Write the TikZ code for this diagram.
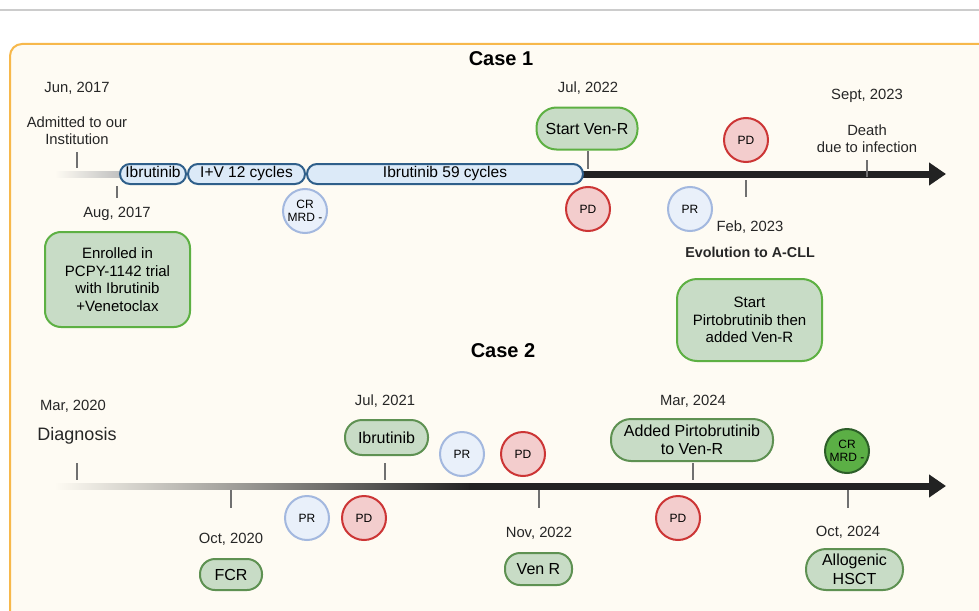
\documentclass[tikz,border=0pt]{standalone}
\usepackage{fontspec}
\setmainfont{Liberation Sans}
\usetikzlibrary{arrows.meta}
\definecolor{bgc}{HTML}{FEFBF3}
\definecolor{frame}{HTML}{F7B84B}
\definecolor{pillfill}{HTML}{DCEAF8}
\definecolor{pilldraw}{HTML}{2F5F8A}
\definecolor{gfill}{HTML}{C8DCC6}
\definecolor{gdrawA}{HTML}{5DB043}
\definecolor{gdrawB}{HTML}{5E9152}
\definecolor{bfill}{HTML}{E9F0FA}
\definecolor{bdraw}{HTML}{A3B8DF}
\definecolor{rfill}{HTML}{F3CDCD}
\definecolor{rdraw}{HTML}{CC3535}
\definecolor{dgfill}{HTML}{5BAF45}
\definecolor{dgdraw}{HTML}{2C5E28}
\definecolor{tickc}{HTML}{707070}
\definecolor{linec}{HTML}{222222}
\tikzset{
  lbl/.style={font=\fontsize{14.8}{17}\selectfont, align=center, text=black!85},
  ttl/.style={font=\fontsize{20}{23}\selectfont\bfseries},
  pill/.style={draw=pilldraw, fill=pillfill, line width=2pt, rounded corners=10pt, minimum height=20pt, inner sep=0pt, text height=1.55ex, text depth=0.25ex, font=\fontsize{15.5}{18}\selectfont},
  gbox/.style={draw=gdrawA, fill=gfill, line width=2pt, rounded corners=16pt, align=center, inner sep=0pt, font=\fontsize{15}{17.5}\selectfont},
  gpill/.style={draw=gdrawB, fill=gfill, line width=2pt, align=center, inner sep=0pt, font=\fontsize{16}{18.5}\selectfont},
  bcirc/.style={circle, draw=bdraw, fill=bfill, line width=2pt, minimum size=44pt, inner sep=0pt, align=center, font=\fontsize{12}{13.5}\selectfont},
  rcirc/.style={bcirc, draw=rdraw, fill=rfill},
  dcirc/.style={bcirc, draw=dgdraw, fill=dgfill},
  tick/.style={draw=tickc, line width=2pt},
  axis/.style={draw=linec, line width=7pt, -{Triangle[length=17pt,width=22pt]}}
}
\begin{document}
\begin{tikzpicture}[x=1pt,y=-1pt]
\useasboundingbox (0,0) rectangle (979,610);
\fill[white] (0,0) rectangle (979,610);
\draw[black!20, line width=1.5pt] (0,10) -- (979,10);
\draw[frame, fill=bgc, line width=2pt, rounded corners=12pt] (10,625) -- (10,44) -- (995,44) -- (995,625);

% ---------- Case 1 ----------
\node[ttl] (c1) at (501,59) {Case 1};
\shade[left color=bgc, right color=black!25] (55,171) rectangle (121,177);
\coordinate (a1s) at (582,174);
\coordinate (a1e) at (946,174);
\draw[axis] (a1s) -- (a1e);
\node[pill, minimum width=66pt] (p1) at (153,174) {Ibrutinib};
\node[pill, minimum width=117pt] (p2) at (246.5,174) {I+V 12 cycles};
\node[pill, minimum width=276pt] (p3) at (445,174) {Ibrutinib 59 cycles};

\node[lbl] (jun17) at (77,88) {Jun, 2017};
\node[lbl] (adm) at (77,131) {Admitted to our\\Institution};
\coordinate (t1a) at (77,152); \coordinate (t1b) at (77,168);
\draw[tick] (t1a) -- (t1b);
\coordinate (t2a) at (117,186); \coordinate (t2b) at (117,198);
\draw[tick] (t2a) -- (t2b);
\node[lbl] (aug17) at (117,214) {Aug, 2017};
\node[gbox, minimum width=145pt, minimum height=95pt] (enr) at (117.5,279.5) {Enrolled in\\PCPY-1142 trial\\with Ibrutinib\\+Venetoclax};
\node[bcirc] (crm1) at (305,211) {CR\\MRD -};

\node[lbl] (jul22) at (588,88) {Jul, 2022};
\node[gbox, rounded corners=20pt, minimum width=101pt, minimum height=42pt, font=\fontsize{16}{18.5}\selectfont] (sven) at (587,128.5) {Start Ven-R};
\coordinate (t3a) at (588,151); \coordinate (t3b) at (588,169);
\draw[tick] (t3a) -- (t3b);
\node[rcirc] (pd1) at (588,209) {PD};
\node[bcirc] (pr1) at (690,209) {PR};
\node[rcirc] (pd2) at (746,140) {PD};
\coordinate (t4a) at (746,180); \coordinate (t4b) at (746,197);
\draw[tick] (t4a) -- (t4b);
\node[lbl] (feb23) at (750,227) {Feb, 2023};
\node[lbl, font=\fontsize{14.3}{16}\selectfont\bfseries] (evo) at (750,252) {Evolution to A-CLL};
\node[gbox, rounded corners=20pt, minimum width=145pt, minimum height=82pt] (pirt) at (749.5,320) {Start\\Pirtobrutinib then\\added Ven-R};
\node[lbl] (sep23) at (867,96) {Sept, 2023};
\node[lbl] (death) at (867,139) {Death\\due to infection};
\coordinate (t5a) at (867,160); \coordinate (t5b) at (867,177);
\draw[tick, line width=1.5pt] (t5a) -- (t5b);

% ---------- Case 2 ----------
\node[ttl] (c2) at (503,351) {Case 2};
\shade[left color=bgc, right color=linec] (55,483) rectangle (472,489);
\coordinate (a2s) at (469,486);
\coordinate (a2e) at (946,486);
\draw[axis] (a2s) -- (a2e);

\node[lbl] (mar20) at (73,406) {Mar, 2020};
\node[lbl, font=\fontsize{18}{21}\selectfont] (diag) at (77,436) {Diagnosis};
\coordinate (u1a) at (77,463); \coordinate (u1b) at (77,480);
\draw[tick] (u1a) -- (u1b);
\coordinate (u2a) at (231,490); \coordinate (u2b) at (231,508);
\draw[tick] (u2a) -- (u2b);
\node[lbl] (oct20) at (231,539) {Oct, 2020};
\node[gpill, rounded corners=15pt, minimum width=62pt, minimum height=31pt] (fcr) at (231,574.5) {FCR};
\node[bcirc] (pr2) at (307,518) {PR};
\node[rcirc] (pd3) at (364,518) {PD};

\node[lbl] (jul21) at (385,401) {Jul, 2021};
\node[gpill, rounded corners=17pt, minimum width=83pt, minimum height=35pt] (ibr2) at (386.5,437.5) {Ibrutinib};
\coordinate (u3a) at (385,463); \coordinate (u3b) at (385,480);
\draw[tick] (u3a) -- (u3b);
\node[bcirc] (pr3) at (462,454) {PR};
\node[rcirc] (pd4) at (523,454) {PD};
\coordinate (u4a) at (539,490); \coordinate (u4b) at (539,508);
\draw[tick] (u4a) -- (u4b);
\node[lbl] (nov22) at (539,533) {Nov, 2022};
\node[gpill, rounded corners=15pt, minimum width=67pt, minimum height=32pt] (venr) at (538.5,569) {Ven R};

\node[lbl] (mar24) at (693,401) {Mar, 2024};
\node[gpill, rounded corners=20pt, minimum width=162pt, minimum height=42pt] (addp) at (692,440) {Added Pirtobrutinib\\to Ven-R};
\coordinate (u5a) at (693,463); \coordinate (u5b) at (693,480);
\draw[tick] (u5a) -- (u5b);
\node[rcirc] (pd5) at (678,518) {PD};

\node[dcirc] (crm2) at (847,451) {CR\\MRD -};
\coordinate (u6a) at (848,490); \coordinate (u6b) at (848,508);
\draw[tick] (u6a) -- (u6b);
\node[lbl] (oct24) at (848,532) {Oct, 2024};
\node[gpill, rounded corners=20pt, minimum width=97pt, minimum height=41pt] (allo) at (854.5,569.5) {Allogenic\\HSCT};
\end{tikzpicture}
\end{document}
